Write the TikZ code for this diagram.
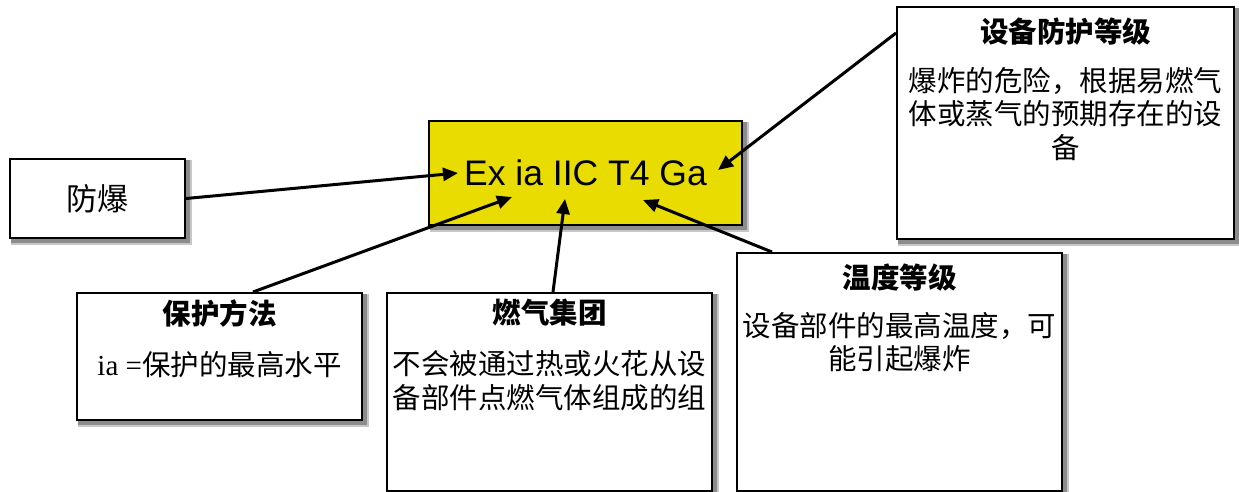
\documentclass[tikz,border=0pt]{standalone}
\usepackage{fontspec}
\setmainfont{Liberation Serif}
\newfontfamily\cjk{Noto Sans CJK SC}
\newfontfamily\arial{Liberation Sans}
\usetikzlibrary{arrows.meta,calc,backgrounds}
\definecolor{exyellow}{RGB}{232,220,0}
\tikzset{
  box/.style={draw=black, line width=2pt, fill=white, inner sep=0pt},
  shadowA/.style={fill=black!22},
  shadowB/.style={fill=black!45},
  ttl/.style={font=\cjk\bfseries\fontsize{28.5}{34}\selectfont, align=center, inner sep=0pt},
  body/.style={font=\cjk\fontsize{28.5}{33.5}\selectfont, align=center, inner sep=0pt},
  arr/.style={line width=3pt, -{Triangle[length=15pt,width=13pt]}}
}
\newcommand{\boxshadow}[1]{%
  \fill[shadowA] ($(#1.north west)+(2,2)$) rectangle ($(#1.south east)+(6,6)$);
  \fill[shadowB] ($(#1.north west)+(2,2)$) rectangle ($(#1.south east)+(3.5,3.5)$);}
\begin{document}
\begin{tikzpicture}[x=1pt,y=-1pt]
\clip (0,0) rectangle (1239,492);
% boxes
\node[box, minimum width=175pt, minimum height=79pt, font=\cjk\fontsize{31}{31}\selectfont] (fb) at (97.5,198.5) {防爆};
\node[box, fill=exyellow, minimum width=313pt, minimum height=104pt, font=\arial\fontsize{35.5}{36}\selectfont] (ex) at (585.5,173) {Ex ia IIC T4 Ga};
\node[box, minimum width=337pt, minimum height=232pt] (eq) at (1065.5,123) {};
\node[box, minimum width=285pt, minimum height=127pt] (bh) at (219.5,356.5) {};
\node[box, minimum width=325pt, minimum height=198pt] (rq) at (549.5,392) {};
\node[box, minimum width=325pt, minimum height=238pt] (wd) at (899.5,372) {};
\begin{scope}[on background layer]
\boxshadow{fb}
\boxshadow{ex}
\boxshadow{eq}
\boxshadow{bh}
\boxshadow{rq}
\boxshadow{wd}
\end{scope}
% texts
\node[ttl] (eqT) at (1065.5,32) {设备防护等级};
\node[body] (eqB) at (1065.5,114) {爆炸的危险，根据易燃气\\体或蒸气的预期存在的设\\备};
\node[ttl] (bhT) at (219.5,313) {保护方法};
\node[body] (bhB) at (219.5,365) {{\fontsize{29}{33}\rmfamily ia =}保护的最高水平};
\node[ttl] (rqT) at (549.5,313) {燃气集团};
\node[body] (rqB) at (549.5,381) {不会被通过热或火花从设\\备部件点燃气体组成的组};
\node[ttl] (wdT) at (899.5,278) {温度等级};
\node[body] (wdB) at (899.5,342) {设备部件的最高温度，可\\能引起爆炸};
% arrow tips
\coordinate (tA) at (458,173);
\coordinate (tB) at (512,197);
\coordinate (tC) at (565,199);
\coordinate (tD) at (643,200);
\coordinate (tE) at (718,170);
\draw[arr] (fb.east) -- (tA);
\draw[arr] ([xshift=33.5pt]bh.north) -- (tB);
\draw[arr] ([xshift=3.5pt]rq.north) -- (tC);
\draw[arr] ([xshift=-127.5pt]wd.north) -- (tD);
\draw[arr] ([yshift=90pt]eq.west) -- (tE);
\end{tikzpicture}
\end{document}
